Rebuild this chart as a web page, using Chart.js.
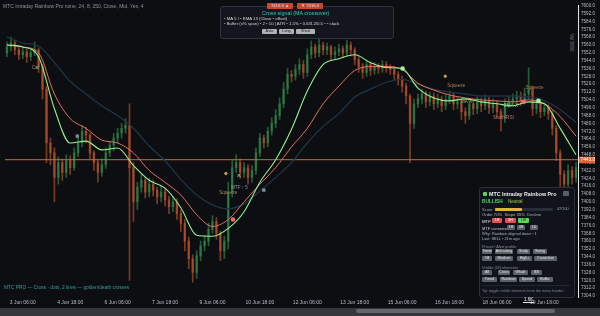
<!DOCTYPE html>
<html lang="en">
<head>
    <meta charset="UTF-8">
    <title>MTC Intraday Rainbow Pro</title>
    <script src="https://cdn.jsdelivr.net/npm/chart.js"></script>
    <style>
        body { margin: 0; background: #0c0e12; font-family: "Liberation Sans", Arial, sans-serif; }
        #wrap { position: relative; width: 600px; height: 316px; background: #0c0e12; overflow: hidden; }
        #box { position: absolute; left: 0; top: 0; width: 600px; height: 308px; }
        .t { position: absolute; white-space: nowrap; }
        .btn { position: absolute; height: 5px; line-height: 5px; font-size: 3.6px; background: #5b6067; color: #e4e6e8; border-radius: 1px; text-align: center; white-space: nowrap; }
        .pbtn { position: absolute; top: 29px; height: 5px; line-height: 5px; font-size: 3.8px; background: #aeb1b5; color: #1b1d20; border-radius: 1px; text-align: center; }
        .badge { position: absolute; top: 3px; height: 6px; line-height: 6px; width: 26px; font-size: 4.2px; background: #c9482c; color: #f6d6c8; text-align: center; border-radius: 1px; }
    </style>
</head>
<body>
<div id="wrap">
    <div id="box"><canvas id="chart"></canvas></div>

    <!-- legend line top left -->
    <div class="t" style="left:3px;top:3px;font-size:5px;color:#8e939b">MTC Intraday Rainbow Pro none, 24, 8, 250, Close, Mid, Yes, 4</div>

    <!-- cross signal popup -->
    <div style="position:absolute;left:220px;top:6px;width:172px;height:31px;background:#13171d;border:1px solid #30353d;border-radius:3px"></div>
    <div class="badge" style="left:267px">7416.5 ▲</div>
    <div class="badge" style="left:297px">▼ 7416.0</div>
    <div class="t" style="left:262px;top:10px;font-size:5.4px;color:#41c3b3">Cross signal (MA crossover)</div>
    <div class="t" style="left:224px;top:16px;font-size:4.3px;color:#d5d7da">• MA 5 / • EMA 13 (Close • offset)</div>
    <div class="t" style="left:224px;top:21px;font-size:4.3px;color:#d5d7da">• Buffer (x% span) • 2 • 10 | ATR • 1.5% • 0.6/3.2/0.5 • • slack</div>
    <div class="pbtn" style="left:262px;width:15px">Auto</div>
    <div class="pbtn" style="left:279px;width:15px">Long</div>
    <div class="pbtn" style="left:296px;width:19px">Short</div>

    <!-- small vertical text near the axis -->
    <div class="t" style="left:563px;top:40px;font-size:4.5px;color:#7d828a;transform:rotate(90deg)">Vol 5000</div>

    <!-- bottom left note -->
    <div class="t" style="left:4px;top:285px;font-size:4.8px;color:#3c9c98">MTC PRO — Cross · dots, 2 lines — golden/death crosses</div>

    <!-- info panel -->
    <div style="position:absolute;left:479px;top:187px;width:94px;height:109px;background:#10141a;border:1px solid #2c3139;border-radius:3px"></div>
    <div style="position:absolute;left:483px;top:192px;width:4px;height:4px;background:#5fd35f;border-radius:1px"></div>
    <div class="t" style="left:489px;top:191px;font-size:5.3px;font-weight:bold;color:#e9ebee">MTC Intraday Rainbow Pro</div>
    <div style="position:absolute;left:563px;top:191px;width:6px;height:5px;background:#5b6067;border-radius:1px"></div>
    <div class="t" style="left:482px;top:199px;font-size:4.8px;font-weight:bold;color:#4fd16a">BULLISH</div>
    <div class="t" style="left:508px;top:199px;font-size:4.5px;color:#9fcf5a">Neutral</div>
    <div class="t" style="left:482px;top:207px;font-size:4px;color:#9aa0a8">Score</div>
    <div style="position:absolute;left:495px;top:208px;width:58px;height:3px;background:#2a2f36;border-radius:1px"></div>
    <div style="position:absolute;left:495px;top:208px;width:27px;height:3px;background:#e3b341;border-radius:1px"></div>
    <div class="t" style="left:557px;top:207px;font-size:3.8px;color:#9aa0a8">47/100</div>
    <div class="t" style="left:482px;top:211.5px;font-size:4.2px;color:#aab0b8">Order 70%&nbsp;&nbsp;Slope 35%&nbsp;&nbsp;Decline</div>
    <div class="t" style="left:482px;top:218.5px;font-size:4.3px;color:#e0e2e5">MTF</div>
    <div class="btn" style="left:492px;top:218px;width:10px;background:#d9534f;color:#fff">1H</div>
    <div class="btn" style="left:505px;top:218px;width:11px;background:#d9534f;color:#fff">4H</div>
    <div class="btn" style="left:518px;top:218px;width:11px;background:#5cd65c;color:#10301a">1W</div>
    <div class="t" style="left:482px;top:225.5px;font-size:4px;color:#c7cbd0">MTF consensus</div>
    <div class="btn" style="left:507px;top:225px;width:8px">1H</div>
    <div class="btn" style="left:517px;top:225px;width:8px">4H</div>
    <div class="btn" style="left:530px;top:225px;width:8px">1D</div>
    <div class="t" style="left:482px;top:230.5px;font-size:3.9px;color:#aab0b8">Why: Rainbow aligned down • 1</div>
    <div class="t" style="left:482px;top:235.5px;font-size:3.9px;color:#aab0b8">Last: SELL • 21m ago</div>
    <div class="t" style="left:482px;top:243.5px;font-size:3.9px;color:#8a9098">Preset / Alert profile:</div>
    <div class="btn" style="left:482px;top:249px;width:10px">Trend</div>
    <div class="btn" style="left:495px;top:249px;width:18px">Anti-swing</div>
    <div class="btn" style="left:517px;top:249px;width:13px">Scalp</div>
    <div class="btn" style="left:533px;top:249px;width:14px">Swing</div>
    <div class="btn" style="left:482px;top:256px;width:10px">Off</div>
    <div class="btn" style="left:495px;top:256px;width:18px">Medium</div>
    <div class="btn" style="left:517px;top:256px;width:15px">High+</div>
    <div class="btn" style="left:534px;top:256px;width:23px">Conviction</div>
    <div class="t" style="left:482px;top:264.5px;font-size:3.9px;color:#8a9098">Visible (UI) elements:</div>
    <div class="btn" style="left:482px;top:270px;width:10px">All</div>
    <div class="btn" style="left:498px;top:270px;width:12px">Cross</div>
    <div class="btn" style="left:513px;top:270px;width:15px">Whale</div>
    <div class="btn" style="left:531px;top:270px;width:11px">BB</div>
    <div class="btn" style="left:482px;top:277px;width:15px">Trend</div>
    <div class="btn" style="left:500px;top:277px;width:17px">Rainbow</div>
    <div class="btn" style="left:519px;top:277px;width:16px">Speed</div>
    <div class="btn" style="left:537px;top:277px;width:16px">Buffer</div>
    <div style="position:absolute;left:482px;top:285px;width:88px;height:1px;background:#22272e"></div>
    <div class="t" style="left:482px;top:289px;font-size:3.7px;color:#7f858d">Tip: toggle visible elements from the menu header.</div>

    <!-- crosshair label on time axis -->
    <div class="t" style="left:523px;top:296.5px;font-size:4.5px;color:#e8e8e8;border-bottom:1px solid #e8e8e8;padding:0 1px">1.6K</div>

    <!-- scrollbar -->
    <div style="position:absolute;left:0;top:308px;width:600px;height:8px;background:#34373b"></div>
    <div style="position:absolute;left:356px;top:309px;width:199px;height:4px;background:#63676c;border-radius:2px"></div>
</div>

<script>
    // candles, one every 3h (index = candle number)
    const firstOpen = 7552;
    const closes = [
        7558, 7562, 7555, 7550, 7553, 7548, 7552, 7555, 7538, 7515,
        7460, 7450, 7425, 7440, 7430, 7442, 7435, 7450, 7460, 7472,
        7468, 7450, 7440, 7430, 7438, 7450, 7458, 7465, 7470, 7475,
        7478, 7435, 7400, 7415, 7422, 7410, 7418, 7412, 7405, 7410,
        7402, 7395, 7400, 7388, 7378, 7360, 7342, 7328, 7345, 7355,
        7360, 7372, 7380, 7368, 7350, 7360, 7410, 7435, 7440, 7430,
        7435, 7425, 7432, 7450, 7465, 7460, 7472, 7480, 7488, 7500,
        7515, 7530, 7528, 7535, 7540, 7532, 7550, 7558, 7552, 7560,
        7555, 7558, 7550, 7553, 7556, 7552, 7560, 7555, 7545, 7538,
        7532, 7540, 7534, 7538, 7536, 7540, 7537, 7535, 7530, 7525,
        7518, 7508, 7480, 7500, 7505, 7510, 7502, 7508, 7500, 7505,
        7498, 7504, 7508, 7500, 7502, 7492, 7488, 7500, 7495, 7502,
        7498, 7504, 7496, 7500, 7492, 7485, 7500, 7502, 7505, 7508,
        7504, 7510, 7515, 7495, 7500, 7492, 7496, 7490, 7475, 7450,
        7428, 7418, 7432, 7425, 7435
    ];
    const highs = [
        7563, 7568, 7565, 7558, 7557, 7556, 7556, 7563, 7557, 7540,
        7518, 7465, 7455, 7446, 7444, 7448, 7447, 7455, 7466, 7478,
        7476, 7470, 7452, 7443, 7444, 7455, 7462, 7470, 7475, 7480,
        7485, 7500, 7440, 7420, 7428, 7425, 7424, 7422, 7415, 7416,
        7414, 7406, 7405, 7403, 7392, 7382, 7364, 7346, 7350, 7360,
        7366, 7378, 7386, 7384, 7370, 7365, 7420, 7442, 7448, 7444,
        7440, 7438, 7437, 7455, 7470, 7468, 7476, 7486, 7494, 7506,
        7522, 7536, 7534, 7540, 7546, 7544, 7556, 7564, 7561, 7566,
        7563, 7562, 7560, 7558, 7561, 7559, 7565, 7563, 7557, 7548,
        7541, 7544, 7543, 7542, 7541, 7544, 7543, 7540, 7538, 7533,
        7528, 7521, 7510, 7505, 7510, 7515, 7513, 7512, 7511, 7510,
        7508, 7509, 7513, 7511, 7507, 7505, 7496, 7505, 7503, 7507,
        7506, 7509, 7507, 7505, 7503, 7495, 7505, 7507, 7510, 7513,
        7512, 7516, 7537, 7518, 7506, 7504, 7501, 7499, 7493, 7478,
        7453, 7432, 7438, 7436, 7440
    ];
    const lows = [
        7548, 7554, 7550, 7545, 7546, 7542, 7544, 7549, 7532, 7505,
        7440, 7438, 7400, 7418, 7422, 7425, 7428, 7432, 7446, 7456,
        7460, 7444, 7432, 7420, 7426, 7434, 7446, 7452, 7460, 7465,
        7470, 7320, 7380, 7392, 7410, 7404, 7405, 7406, 7398, 7400,
        7396, 7388, 7390, 7382, 7370, 7350, 7332, 7318, 7322, 7340,
        7350, 7355, 7368, 7362, 7340, 7342, 7352, 7405, 7430, 7424,
        7425, 7418, 7420, 7428, 7446, 7455, 7456, 7468, 7476, 7484,
        7496, 7510, 7522, 7524, 7530, 7526, 7528, 7546, 7547, 7548,
        7550, 7550, 7545, 7546, 7549, 7547, 7549, 7550, 7540, 7532,
        7526, 7528, 7529, 7530, 7531, 7532, 7532, 7530, 7524, 7519,
        7512, 7500, 7440, 7475, 7496, 7500, 7496, 7498, 7494, 7496,
        7492, 7494, 7500, 7494, 7495, 7484, 7480, 7484, 7489, 7490,
        7492, 7494, 7490, 7491, 7486, 7472, 7481, 7496, 7498, 7500,
        7498, 7500, 7505, 7488, 7490, 7486, 7488, 7484, 7468, 7442,
        7415, 7410, 7412, 7418, 7420
    ];

    // rainbow moving averages, read every 4 candles
    const maIdx = [0, 4, 8, 12, 16, 20, 24, 28, 32, 36, 40, 44, 48, 52, 56, 60, 64, 68, 72,
                   76, 80, 84, 88, 92, 96, 100, 104, 108, 112, 116, 120, 124, 128, 132, 136, 140, 144];
    const fastMA = [7560, 7558, 7548, 7495, 7460, 7462, 7453, 7455, 7437, 7422, 7414, 7394, 7366, 7365, 7373, 7390, 7420, 7443, 7474,
                    7513, 7540, 7546, 7550, 7542, 7537, 7536, 7516, 7506, 7503, 7505, 7502, 7500, 7498, 7502, 7500, 7475, 7448];
    const slowMA = [7560, 7558, 7552, 7510, 7485, 7475, 7463, 7460, 7450, 7432, 7420, 7407, 7387, 7375, 7382, 7400, 7418, 7435, 7456,
                    7475, 7500, 7518, 7534, 7538, 7538, 7535, 7521, 7514, 7509, 7506, 7504, 7503, 7502, 7504, 7500, 7487, 7467];
    const longMA = [7568, 7562, 7559, 7542, 7523, 7510, 7498, 7488, 7475, 7457, 7442, 7423, 7407, 7397, 7393, 7398, 7411, 7425, 7440,
                    7460, 7477, 7490, 7507, 7515, 7522, 7525, 7520, 7515, 7512, 7510, 7508, 7508, 7508, 7507, 7503, 7494, 7481];

    const lastPrice = 7443;

    // signal markers
    const boxX = [17.8, 65], boxY = [7467, 7412];
    const bullX = [100.1, 134.5], bullY = [7536, 7503];
    const bearX = [57.2, 130.7], bearY = [7382, 7502];
    const dotX = [110.9, 55.4], dotY = [7528, 7429];
    const plusX = [58.7, 7.6], plusY = [7427, 7537];

    // small text tags on the chart
    const tagText = ['Squeeze', 'MTF ↑ 5', 'Squeeze', 'MA X', 'Squeeze', 'Stoch RSI', 'EMA X', 'C'];
    const tagX = [53.7, 56.7, 111.4, 114.9, 131.2, 123.0, 125.7, 6.3];
    const tagY = [7409, 7414, 7518, 7502, 7516, 7486, 7498, 7537];
    const tagColor = ['#a88358', '#8f959c', '#a88358', '#76c476', '#a88358', '#c97272', '#76c476', '#a88358'];

    // time axis
    const timeIdx = [4, 16, 28, 40, 52, 64, 76, 88, 100, 112, 124, 136];
    const timeLabels = ['3 Jun 06:00', '4 Jun 18:00', '6 Jun 06:00', '7 Jun 18:00', '9 Jun 06:00', '10 Jun 18:00',
                        '12 Jun 06:00', '13 Jun 18:00', '15 Jun 06:00', '16 Jun 18:00', '18 Jun 06:00', '19 Jun 18:00'];

    const upColor = 'rgba(52,140,78,0.62)';
    const downColor = 'rgba(196,86,46,0.62)';

    function openAt(i) {
        return i === 0 ? firstOpen : closes[i - 1];
    }
    function candleColor(ctx) {
        const i = ctx.dataIndex;
        return closes[i] >= openAt(i) ? upColor : downColor;
    }
    function pts(xs, ys) {
        return xs.map(function(x, k) { return { x: x, y: ys[k] }; });
    }

    const tagPlugin = {
        id: 'tags',
        afterDatasetsDraw(chart) {
            const ctx = chart.ctx;
            const x = chart.scales.x, y = chart.scales.y;
            ctx.save();
            ctx.font = '4.6px "Liberation Sans"';
            ctx.textBaseline = 'middle';
            tagText.forEach(function(t, k) {
                ctx.fillStyle = tagColor[k];
                ctx.fillText(t, x.getPixelForValue(tagX[k]), y.getPixelForValue(tagY[k]));
            });
            // price tag on the axis
            const py = y.getPixelForValue(lastPrice);
            ctx.fillStyle = '#e4602e';
            ctx.fillRect(x.right + 1, py - 3, 16, 6.5);
            ctx.fillStyle = '#ffffff';
            ctx.font = '4.8px "Liberation Sans"';
            ctx.fillText(lastPrice.toFixed(1), x.right + 2.5, py + 0.3);
            ctx.restore();
        }
    };

    new Chart(document.getElementById('chart'), {
        type: 'bar',
        data: {
            datasets: [
                {
                    label: 'wick',
                    data: closes.map(function(c, i) { return { x: i, y: [lows[i], highs[i]] }; }),
                    backgroundColor: candleColor,
                    barThickness: 1,
                    grouped: false,
                    order: 10
                },
                {
                    label: 'body',
                    data: closes.map(function(c, i) { return { x: i, y: [openAt(i), c] }; }),
                    backgroundColor: candleColor,
                    barThickness: 1.8,
                    grouped: false,
                    order: 9
                },
                {
                    type: 'line', label: 'long', data: pts(maIdx, longMA),
                    borderColor: '#1f3547', borderWidth: 1.3, pointRadius: 0,
                    cubicInterpolationMode: 'monotone', order: 5
                },
                {
                    type: 'line', label: 'slow', data: pts(maIdx, slowMA),
                    borderColor: '#e2705f', borderWidth: 1, pointRadius: 0,
                    cubicInterpolationMode: 'monotone', order: 4
                },
                {
                    type: 'line', label: 'fast', data: pts(maIdx, fastMA),
                    borderColor: '#95f292', borderWidth: 1.1, pointRadius: 0,
                    cubicInterpolationMode: 'monotone', order: 3
                },
                {
                    type: 'line', label: 'last', data: [{ x: -0.5, y: lastPrice }, { x: 144.5, y: lastPrice }],
                    borderColor: '#e4602e', borderWidth: 1, pointRadius: 0, order: 6
                },
                {
                    type: 'line', showLine: false, data: pts(boxX, boxY),
                    pointStyle: 'rect', pointRadius: 2.3, pointBackgroundColor: '#8b9097', pointBorderWidth: 0, order: 1
                },
                {
                    type: 'line', showLine: false, data: pts(bullX, bullY),
                    pointRadius: 2.3, pointBackgroundColor: '#9cf59a', pointBorderWidth: 0, order: 1
                },
                {
                    type: 'line', showLine: false, data: pts(bearX, bearY),
                    pointRadius: 2.3, pointBackgroundColor: '#f06b6b', pointBorderWidth: 0, order: 1
                },
                {
                    type: 'line', showLine: false, data: pts(dotX, dotY),
                    pointStyle: 'rectRot', pointRadius: 2, pointBackgroundColor: '#c9a050', pointBorderWidth: 0, order: 1
                },
                {
                    type: 'line', showLine: false, data: pts(plusX, plusY),
                    pointStyle: 'crossRot', pointRadius: 2.2, pointBorderColor: '#7fcf7f', pointBorderWidth: 1, order: 1
                }
            ]
        },
        options: {
            responsive: true,
            maintainAspectRatio: false,
            animation: false,
            layout: { padding: 0 },
            plugins: { legend: { display: false }, tooltip: { enabled: false } },
            scales: {
                x: {
                    type: 'linear',
                    min: -0.5,
                    max: 144.5,
                    offset: false,
                    grid: { display: false, drawTicks: false },
                    border: { display: false },
                    afterBuildTicks: function(scale) {
                        scale.ticks = timeIdx.map(function(v) { return { value: v }; });
                    },
                    afterFit: function(scale) { scale.height = 11; },
                    ticks: {
                        autoSkip: false,
                        maxRotation: 0,
                        padding: 3,
                        color: '#b9bcc2',
                        font: { size: 5, family: 'Liberation Sans' },
                        callback: function(v) { return timeLabels[timeIdx.indexOf(v)]; }
                    }
                },
                y: {
                    position: 'right',
                    min: 7303,
                    max: 7600,
                    grid: { display: false, drawTicks: false },
                    border: { display: true, color: '#e6e6e6', width: 1 },
                    afterFit: function(scale) { scale.width = 22; },
                    ticks: {
                        stepSize: 8,
                        maxTicksLimit: 60,
                        autoSkip: false,
                        includeBounds: false,
                        padding: 3,
                        color: '#b9bcc2',
                        font: { size: 4.6, family: 'Liberation Sans' },
                        callback: function(v) { return v.toFixed(1); }
                    }
                }
            }
        },
        plugins: [tagPlugin]
    });
</script>
</body>
</html>
